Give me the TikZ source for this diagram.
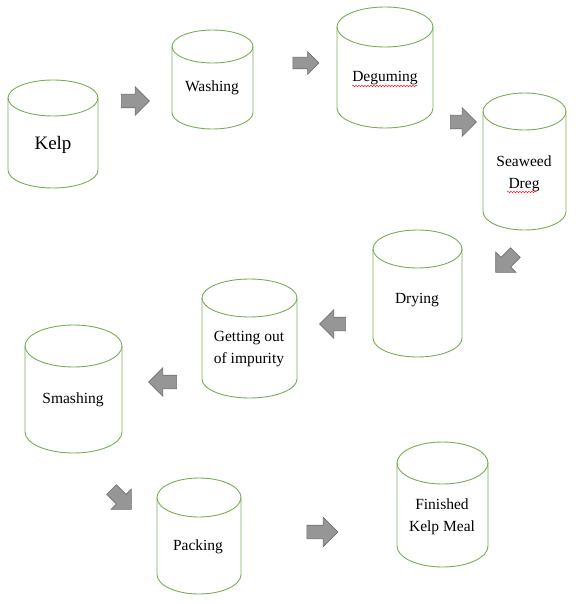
\documentclass[tikz,border=0pt]{standalone}
\usepackage{fontspec}
\setmainfont{Liberation Serif}
\usetikzlibrary{shapes.arrows,decorations.pathmorphing}
\definecolor{tankgreen}{RGB}{122,172,84}
\definecolor{arrowfill}{RGB}{150,150,150}
\definecolor{arrowline}{RGB}{112,112,112}
\tikzset{tankline/.style = {draw=tankgreen,line width=0.9pt}}
\tikzset{tanktext/.style = {align=center,inner sep=0pt,font=\fontsize{15.5}{22}\selectfont}}
\tikzset{blockarrow/.style = {single arrow,draw=arrowline,fill=arrowfill,line width=0.6pt,
  minimum height=28pt,inner xsep=0pt,inner ysep=6.5pt,single arrow head extend=7.5pt}}
\tikzset{squiggle/.style = {draw=red,line width=0.45pt,decorate,
  decoration={snake,amplitude=0.7pt,segment length=3pt}}}

% #1 centre x, #2 top, #3 bottom, #4 half width, #5 half height of the lid
\newcommand{\tank}[5]{%
  \draw[tankline] (#1-#4,#2+#5) -- (#1-#4,#3-#5)
    arc[start angle=180,end angle=0,x radius=#4,y radius=#5] -- (#1+#4,#2+#5);
  \draw[tankline] (#1,#2+#5) ellipse[x radius=#4,y radius=#5];
}

\begin{document}
\begin{tikzpicture}[x=1pt,y=-1pt]
\useasboundingbox (0,0) rectangle (587,604);

\tank{53}{80}{188}{45}{18}
\tank{212.5}{30}{129}{40.5}{16.5}
\tank{385}{7}{128}{48}{20}
\tank{524.5}{93}{230}{41.5}{18.5}
\tank{417.5}{230}{357}{44.5}{19}
\tank{249.5}{279}{398}{47.5}{19}
\tank{73.5}{325}{453}{48.5}{21}
\tank{199}{478}{594}{42}{19.5}
\tank{442.5}{442}{567}{45.5}{21}

\node[tanktext,font=\fontsize{19}{22}\selectfont] (kelp) at (53,145) {Kelp};
\node[tanktext] (wash) at (212,88) {Washing};
\node[tanktext] (degum) at (385,78) {Deguming};
\node[tanktext] (dreg) at (524,174) {Seaweed\\Dreg};
\node[tanktext] (dry) at (417,300) {Drying};
\node[tanktext] (impure) at (249,349) {Getting out\\of impurity};
\node[tanktext] (smash) at (73,400) {Smashing};
\node[tanktext] (pack) at (198,547) {Packing};
\node[tanktext] (meal) at (442,517) {Finished\\Kelp Meal};

\draw[squiggle] (352,86) -- (418,86);
\draw[squiggle] (507,192) -- (537,192);

\node[blockarrow] (a1) at (132,101) {};
\node[blockarrow,minimum height=26pt,inner ysep=5.5pt,single arrow head extend=5.5pt] (a2) at (303,63) {};
\node[blockarrow,minimum height=26pt] (a3) at (460,122) {};
\node[blockarrow,rotate=225] (a4) at (508,260) {};
\node[blockarrow,rotate=180,minimum height=26pt] (a5) at (336,324) {};
\node[blockarrow,rotate=180] (a6) at (166,382) {};
\node[blockarrow,rotate=-45] (a7) at (119,497) {};
\node[blockarrow,minimum height=31pt,single arrow head extend=8pt] (a8) at (319,532) {};

\end{tikzpicture}
\end{document}
